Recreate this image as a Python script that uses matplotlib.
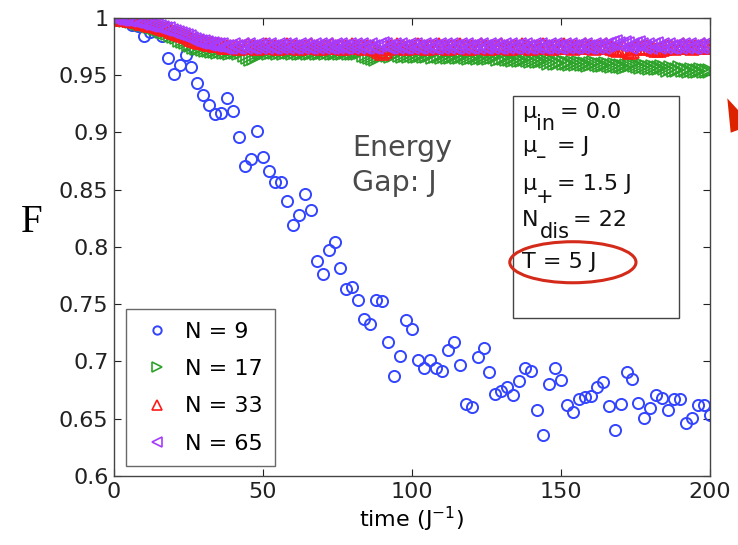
import numpy as np
import matplotlib
matplotlib.use("Agg")
import matplotlib.pyplot as plt
from matplotlib.patches import Ellipse, Rectangle, Polygon

plt.rcParams['font.family'] = ['DejaVu Sans']
plt.rcParams['mathtext.fontset'] = 'dejavusans'

# N = 9 : sampled every 2 time units
t_9 = np.arange(0, 201, 2)
f_9 = [1.000, 0.999, 0.997, 0.994, 0.993, 0.984, 0.988, 0.990, 0.984, 0.965,
       0.951, 0.959, 0.968, 0.957, 0.943, 0.933, 0.924, 0.916, 0.917, 0.930,
       0.919, 0.896, 0.871, 0.877, 0.901, 0.879, 0.866, 0.857, 0.857, 0.840,
       0.819, 0.828, 0.846, 0.832, 0.788, 0.776, 0.797, 0.804, 0.782, 0.763,
       0.765, 0.754, 0.737, 0.733, 0.754, 0.753, 0.717, 0.687, 0.705, 0.736,
       0.728, 0.701, 0.694, 0.701, 0.694, 0.692, 0.710, 0.717, 0.697, 0.663,
       0.660, 0.704, 0.712, 0.691, 0.672, 0.674, 0.678, 0.671, 0.683, 0.694,
       0.692, 0.658, 0.636, 0.680, 0.694, 0.684, 0.662, 0.656, 0.667, 0.669,
       0.670, 0.678, 0.682, 0.661, 0.640, 0.663, 0.691, 0.685, 0.664, 0.651,
       0.659, 0.671, 0.668, 0.658, 0.667, 0.667, 0.646, 0.651, 0.662, 0.662,
       0.653]

# N = 17, 33, 65 : sampled every time unit
t_big = np.arange(0, 201, 1)
f_17 = [1.000, 1.000, 0.999, 0.999, 0.998, 0.998, 0.997, 0.997, 0.996, 0.995,
        0.995, 0.994, 0.993, 0.992, 0.991, 0.990, 0.989, 0.988, 0.987, 0.985,
        0.984, 0.983, 0.981, 0.980, 0.979, 0.977, 0.976, 0.975, 0.974, 0.974,
        0.973, 0.972, 0.972, 0.971, 0.971, 0.970, 0.971, 0.970, 0.970, 0.969,
        0.970, 0.970, 0.969, 0.970, 0.968, 0.966, 0.964, 0.965, 0.968, 0.970,
        0.969, 0.970, 0.969, 0.970, 0.970, 0.969, 0.970, 0.969, 0.970, 0.970,
        0.969, 0.970, 0.969, 0.969, 0.970, 0.969, 0.969, 0.970, 0.969, 0.969,
        0.970, 0.969, 0.970, 0.969, 0.969, 0.970, 0.969, 0.969, 0.970, 0.969,
        0.969, 0.969, 0.969, 0.970, 0.968, 0.967, 0.966, 0.965, 0.964, 0.966,
        0.968, 0.969, 0.968, 0.967, 0.968, 0.969, 0.968, 0.967, 0.968, 0.967,
        0.968, 0.967, 0.967, 0.968, 0.967, 0.967, 0.968, 0.966, 0.967, 0.967,
        0.966, 0.967, 0.966, 0.966, 0.967, 0.966, 0.966, 0.967, 0.966, 0.965,
        0.966, 0.966, 0.965, 0.966, 0.965, 0.966, 0.965, 0.966, 0.966, 0.964,
        0.965, 0.965, 0.964, 0.964, 0.963, 0.964, 0.963, 0.963, 0.964, 0.963,
        0.962, 0.963, 0.962, 0.962, 0.963, 0.962, 0.961, 0.962, 0.961, 0.961,
        0.962, 0.961, 0.961, 0.960, 0.961, 0.960, 0.961, 0.960, 0.960, 0.959,
        0.960, 0.961, 0.960, 0.959, 0.959, 0.960, 0.959, 0.958, 0.959, 0.958,
        0.958, 0.957, 0.958, 0.959, 0.960, 0.959, 0.958, 0.957, 0.958, 0.957,
        0.956, 0.957, 0.956, 0.956, 0.957, 0.956, 0.955, 0.956, 0.955, 0.955,
        0.956, 0.955, 0.955, 0.954, 0.955, 0.954, 0.954, 0.955, 0.954, 0.954,
        0.954]
f_33 = [1.000, 1.000, 0.999, 0.999, 0.999, 0.998, 0.998, 0.997, 0.997, 0.996,
        0.996, 0.995, 0.994, 0.994, 0.993, 0.992, 0.991, 0.990, 0.990, 0.989,
        0.988, 0.987, 0.986, 0.985, 0.984, 0.983, 0.982, 0.981, 0.980, 0.979,
        0.979, 0.978, 0.977, 0.977, 0.976, 0.976, 0.976, 0.975, 0.975, 0.975,
        0.975, 0.975, 0.974, 0.975, 0.975, 0.976, 0.975, 0.975, 0.974, 0.975,
        0.975, 0.976, 0.975, 0.975, 0.975, 0.974, 0.975, 0.975, 0.976, 0.975,
        0.975, 0.975, 0.974, 0.975, 0.975, 0.975, 0.976, 0.975, 0.975, 0.974,
        0.975, 0.975, 0.975, 0.976, 0.975, 0.975, 0.975, 0.974, 0.975, 0.975,
        0.976, 0.975, 0.975, 0.975, 0.974, 0.975, 0.975, 0.974, 0.973, 0.971,
        0.969, 0.971, 0.974, 0.975, 0.975, 0.976, 0.975, 0.975, 0.974, 0.975,
        0.975, 0.975, 0.976, 0.975, 0.975, 0.974, 0.975, 0.975, 0.975, 0.976,
        0.975, 0.975, 0.974, 0.975, 0.975, 0.975, 0.976, 0.975, 0.975, 0.974,
        0.975, 0.975, 0.975, 0.976, 0.975, 0.975, 0.974, 0.975, 0.975, 0.975,
        0.976, 0.975, 0.975, 0.974, 0.975, 0.975, 0.975, 0.976, 0.975, 0.975,
        0.974, 0.975, 0.975, 0.975, 0.976, 0.975, 0.975, 0.974, 0.975, 0.975,
        0.975, 0.976, 0.975, 0.975, 0.974, 0.975, 0.975, 0.975, 0.976, 0.975,
        0.975, 0.974, 0.975, 0.975, 0.975, 0.976, 0.975, 0.974, 0.973, 0.972,
        0.973, 0.974, 0.972, 0.970, 0.971, 0.974, 0.975, 0.974, 0.975, 0.975,
        0.974, 0.973, 0.972, 0.972, 0.973, 0.974, 0.975, 0.975, 0.974, 0.975,
        0.975, 0.976, 0.975, 0.975, 0.974, 0.975, 0.975, 0.975, 0.976, 0.975,
        0.975]
f_65 = [1.000, 1.000, 0.999, 0.999, 0.999, 0.998, 0.998, 0.997, 0.997, 0.996,
        0.996, 0.995, 0.994, 0.994, 0.993, 0.992, 0.991, 0.990, 0.990, 0.989,
        0.988, 0.987, 0.986, 0.985, 0.984, 0.983, 0.982, 0.981, 0.980, 0.979,
        0.979, 0.978, 0.977, 0.977, 0.976, 0.976, 0.976, 0.975, 0.975, 0.975,
        0.976, 0.975, 0.975, 0.976, 0.975, 0.976, 0.975, 0.975, 0.976, 0.975,
        0.976, 0.975, 0.976, 0.975, 0.975, 0.976, 0.975, 0.976, 0.975, 0.976,
        0.975, 0.975, 0.976, 0.975, 0.976, 0.975, 0.975, 0.976, 0.975, 0.976,
        0.975, 0.976, 0.975, 0.975, 0.976, 0.975, 0.976, 0.975, 0.975, 0.976,
        0.975, 0.976, 0.975, 0.976, 0.975, 0.975, 0.976, 0.975, 0.975, 0.976,
        0.977, 0.976, 0.975, 0.975, 0.976, 0.975, 0.976, 0.975, 0.975, 0.976,
        0.975, 0.976, 0.975, 0.975, 0.976, 0.975, 0.976, 0.975, 0.975, 0.976,
        0.975, 0.976, 0.975, 0.976, 0.975, 0.975, 0.976, 0.975, 0.976, 0.975,
        0.975, 0.976, 0.975, 0.976, 0.975, 0.975, 0.976, 0.975, 0.976, 0.975,
        0.975, 0.976, 0.975, 0.976, 0.975, 0.975, 0.976, 0.975, 0.976, 0.975,
        0.975, 0.976, 0.975, 0.976, 0.975, 0.975, 0.976, 0.975, 0.976, 0.975,
        0.975, 0.976, 0.975, 0.976, 0.975, 0.975, 0.976, 0.975, 0.976, 0.975,
        0.975, 0.976, 0.975, 0.976, 0.975, 0.976, 0.977, 0.978, 0.979, 0.977,
        0.976, 0.978, 0.977, 0.975, 0.976, 0.977, 0.978, 0.976, 0.975, 0.976,
        0.975, 0.976, 0.977, 0.975, 0.976, 0.975, 0.976, 0.975, 0.975, 0.976,
        0.975, 0.976, 0.975, 0.976, 0.975, 0.975, 0.976, 0.975, 0.976, 0.975,
        0.976]

labels = ['N = 9', 'N = 17', 'N = 33', 'N = 65']
colors = ['#3344ff', '#2ea32a', '#ff1a1a', '#a53cff']

x_ticks = [0, 50, 100, 150, 200]
y_ticks = [0.6, 0.65, 0.7, 0.75, 0.8, 0.85, 0.9, 0.95, 1.0]
y_tick_labels = ['0.6', '0.65', '0.7', '0.75', '0.8', '0.85', '0.9', '0.95', '1']

# parameter box: (main text, subscript, rest of line)
box_main = ['μ', 'μ', 'μ', 'N', 'T = 5 J']
box_sub = ['in', '–', '+', 'dis', '']
box_rest = ['= 0.0', '= J', '= 1.5 J', '= 22', '']

fig = plt.figure(figsize=(7.38, 5.45), dpi=100)
ax = fig.add_axes([0.1545, 0.1266, 0.8075, 0.8404])

ax.plot(t_9, f_9, 'o', ls='none', mfc='none', mec=colors[0], ms=8, mew=1.4,
        label=labels[0])
ax.plot(t_big, f_17, '>', ls='none', mfc='none', mec=colors[1], ms=9.5, mew=1.2,
        label=labels[1])
ax.plot(t_big, f_33, '^', ls='none', mfc='none', mec=colors[2], ms=9.5, mew=1.2,
        label=labels[2])
ax.plot(t_big, f_65, '<', ls='none', mfc='none', mec=colors[3], ms=9.5, mew=1.2,
        label=labels[3])

ax.set_xlim(0, 200)
ax.set_ylim(0.6, 1.0)
ax.set_xticks(x_ticks)
ax.set_yticks(y_ticks)
ax.set_yticklabels(y_tick_labels)
ax.tick_params(direction='in', length=5, width=0.8, top=True, right=True,
               labelsize=16, colors='#222222', pad=4)
for s in ax.spines.values():
    s.set_color('#444444')
    s.set_linewidth(1.0)

ax.set_xlabel(r'time (J$^{-1}$)', fontsize=16, labelpad=2)
ax.set_ylabel('F', fontsize=28, rotation=0, family='Liberation Serif')
ax.yaxis.set_label_coords(-0.138, 0.514)

leg = ax.legend(loc='lower left', bbox_to_anchor=(0.02, 0.022), borderaxespad=0,
                fontsize=16, fancybox=False, edgecolor='#444444',
                labelspacing=0.78, handletextpad=0.4, borderpad=0.55,
                markerscale=0.75, handlelength=1.7)
leg.get_frame().set_linewidth(1.0)

ax.text(0.4, 0.6995, 'Energy', fontsize=20.5, color='#4a4a4a', transform=ax.transAxes,
        va='baseline')
ax.text(0.4, 0.623, 'Gap: J', fontsize=20.5, color='#4a4a4a', transform=ax.transAxes,
        va='baseline')

ax.add_patch(Rectangle((0.6694, 0.3447), 0.279, 0.4859, transform=ax.transAxes,
                       fill=False, edgecolor='#444444', lw=1.0))
main_y = [0.782, 0.7064, 0.625, 0.545, 0.455]
sub_y = [0.7548, 0.684, 0.5953, 0.5196, 0.0]
sub_x = [0.7076, 0.7076, 0.7076, 0.714, 0.0]
rest_x = [0.748, 0.743, 0.743, 0.771, 0.0]
for i in range(5):
    ax.text(0.684, main_y[i], box_main[i], fontsize=16, transform=ax.transAxes,
            va='baseline', color='#111111')
    if box_sub[i]:
        ax.text(sub_x[i], sub_y[i], box_sub[i], fontsize=15, transform=ax.transAxes,
                va='baseline', color='#111111')
        ax.text(rest_x[i], main_y[i], box_rest[i], fontsize=16,
                transform=ax.transAxes, va='baseline', color='#111111')

ax.add_patch(Ellipse((0.770, 0.4667), 0.2118, 0.0896, transform=ax.transAxes,
                     fill=False, edgecolor='#d42a1a', lw=2.2))

# piece of a red arrow cut by the right edge
fig.patches.append(Polygon([(727.3 / 738, 1 - 98.3 / 545), (738 / 738, 1 - 110 / 545),
                            (738 / 738, 1 - 130 / 545), (730.7 / 738, 1 - 132.7 / 545)],
                           closed=True, transform=fig.transFigure,
                           facecolor='#dd2200', edgecolor='none'))

fig.savefig('out.png', dpi=100)
